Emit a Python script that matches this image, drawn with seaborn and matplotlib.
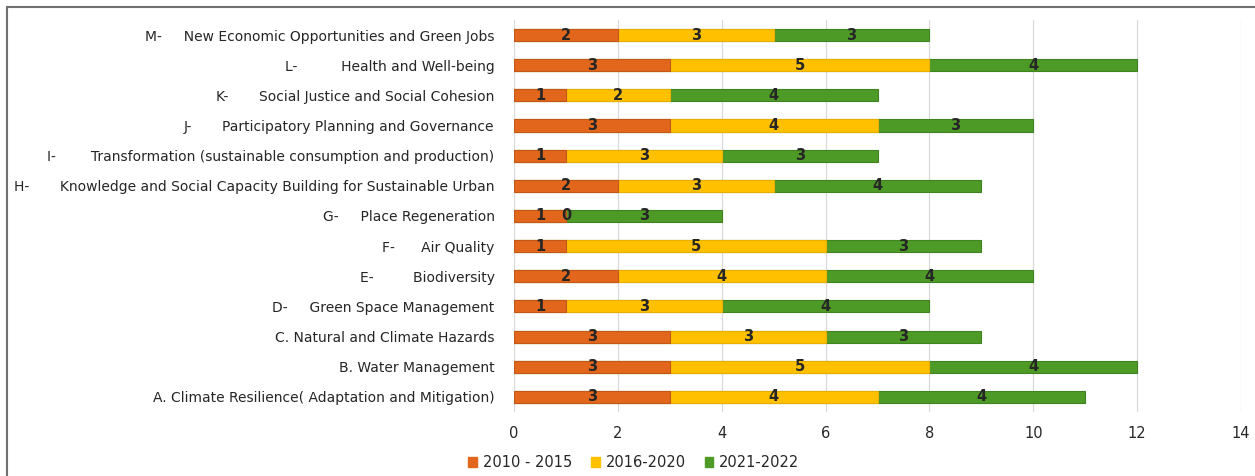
import matplotlib
matplotlib.use("Agg")
import matplotlib.pyplot as plt
import seaborn as sns
import pandas as pd
from matplotlib.lines import Line2D
from matplotlib.patches import Patch

categories = [
    "M-     New Economic Opportunities and Green Jobs",
    "L-          Health and Well-being",
    "K-       Social Justice and Social Cohesion",
    "J-       Participatory Planning and Governance",
    "I-        Transformation (sustainable consumption and production)",
    "H-       Knowledge and Social Capacity Building for Sustainable Urban",
    "G-     Place Regeneration",
    "F-      Air Quality",
    "E-         Biodiversity",
    "D-     Green Space Management",
    "C. Natural and Climate Hazards",
    "B. Water Management",
    "A. Climate Resilience( Adaptation and Mitigation)",
]
period_labels = ["2010 - 2015", "2016-2020", "2021-2022"]
p2010_2015 = [2, 3, 1, 3, 1, 2, 1, 1, 2, 1, 3, 3, 3]
p2016_2020 = [3, 5, 2, 4, 3, 3, 0, 5, 4, 3, 3, 5, 4]
p2021_2022 = [3, 4, 4, 3, 3, 4, 3, 3, 4, 4, 3, 4, 4]
x_ticks = [0, 2, 4, 6, 8, 10, 12, 14]

colors = ["#E2671D", "#FFC000", "#4E9A27"]
edges = ["#C4561A", "#E8AE00", "#3F8220"]

df = pd.DataFrame({
    "category": categories,
    "a": p2010_2015,
    "b": p2016_2020,
    "c": p2021_2022,
})
df["ab"] = df["a"] + df["b"]
df["abc"] = df["ab"] + df["c"]

sns.set_theme(style="white")
plt.rcParams["font.family"] = ["DejaVu Sans"]

fig = plt.figure(figsize=(12.55, 4.76), dpi=100)
ax = fig.add_axes([0.4096, 0.1345, 0.5793, 0.8235])

# stacked bars: draw cumulative totals back to front
for col, c, ec in zip(["abc", "ab", "a"], colors[::-1], edges[::-1]):
    sns.barplot(data=df, x=col, y="category", orient="h", color=c,
                edgecolor=ec, linewidth=0.8, width=0.4, ax=ax,
                saturation=1, zorder=3)

# value labels centred in each segment
for i, row in df.iterrows():
    starts = [0, row["a"], row["ab"]]
    vals = [row["a"], row["b"], row["c"]]
    for s, v in zip(starts, vals):
        ax.text(s + v / 2, i, str(v), ha="center", va="center",
                fontsize=10.5, color="#262626", zorder=5,
                family="Liberation Sans Narrow", fontweight="bold")

ax.set_xlim(0, 14)
ax.set_ylim(12.5, -0.5)
ax.set_xticks(x_ticks)
ax.set_xticklabels([str(t) for t in x_ticks], fontsize=10.5, color="#262626")
ax.tick_params(axis="y", labelsize=10, colors="#262626", length=0, pad=14)
ax.tick_params(axis="x", length=0, pad=10)
ax.set_xlabel("")
ax.set_ylabel("")
ax.grid(axis="x", color="#D9D9D9", linewidth=0.9, zorder=0)
ax.set_axisbelow(True)
for s in ["top", "right", "bottom", "left"]:
    ax.spines[s].set_visible(False)

handles = [Patch(facecolor=c, edgecolor=c) for c in colors]
fig.legend(handles, period_labels, loc="center", bbox_to_anchor=(0.505, 0.028),
           ncol=3, frameon=False, fontsize=10.5, handlelength=0.6,
           handleheight=0.6, handletextpad=0.4, columnspacing=1.3)

# outer frame lines
fig.add_artist(Line2D([0.0056, 1.0], [0.985, 0.985], transform=fig.transFigure,
                      color="#707070", linewidth=1.5))
fig.add_artist(Line2D([0.0056, 0.0056], [0.0, 0.985], transform=fig.transFigure,
                      color="#707070", linewidth=1.5))

fig.savefig("out.png", dpi=100)
